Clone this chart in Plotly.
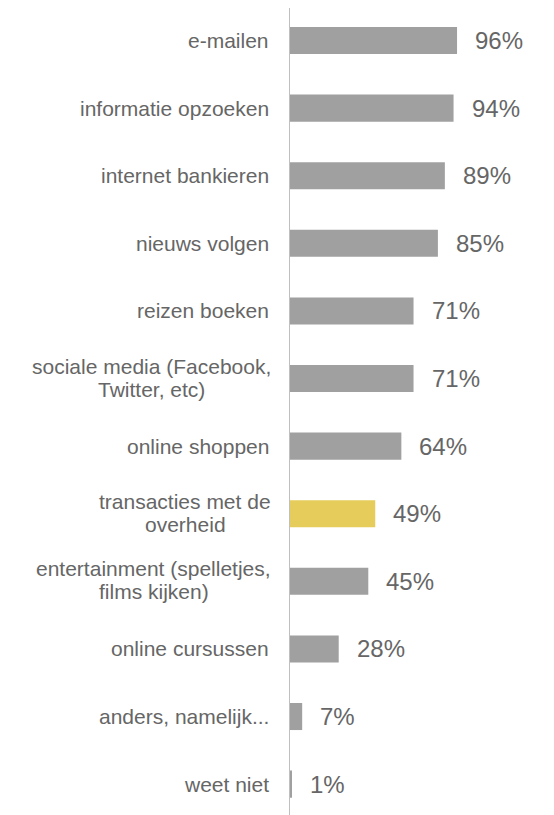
import plotly.graph_objects as go

categories = [
    "e-mailen",
    "informatie opzoeken",
    "internet bankieren",
    "nieuws volgen",
    "reizen boeken",
    "sociale media (Facebook,\nTwitter, etc)",
    "online shoppen",
    "transacties met de\noverheid",
    "entertainment (spelletjes,\nfilms kijken)",
    "online cursussen",
    "anders, namelijk...",
    "weet niet",
]
values = [96, 94, 89, 85, 71, 71, 64, 49, 45, 28, 7, 1]
highlight = "transacties met de\noverheid"

GRAY = "#a0a0a0"
YELLOW = "#e6cc5a"
TEXT = "#666666"
FONT = "Liberation Sans, Arial"
CAT_SIZE = 21
VAL_SIZE = 24
LABEL_GAP = 19
LINE_SPACING = 23

# Arial / Liberation Sans advance widths (per 1000 em) for centring wrapped labels
ARIAL_W = {
    " ": 278, "(": 333, ")": 333, ",": 278, ".": 278, "-": 333,
    "a": 556, "b": 556, "c": 500, "d": 556, "e": 556, "f": 278, "g": 556,
    "h": 556, "i": 222, "j": 222, "k": 500, "l": 222, "m": 833, "n": 556,
    "o": 556, "p": 556, "r": 333, "s": 500, "t": 278, "u": 556, "v": 500,
    "w": 722, "z": 500, "F": 611, "T": 611,
}


def text_width(s, size):
    return sum(ARIAL_W.get(ch, 556) for ch in s) / 1000 * size


idx = list(range(len(categories)))
colors = [YELLOW if c == highlight else GRAY for c in categories]

fig = go.Figure(go.Bar(
    x=values, y=idx, orientation="h",
    marker=dict(color=colors, line=dict(width=0)),
    width=0.4, hoverinfo="skip",
))

annotations = []
for i, (c, v) in enumerate(zip(categories, values)):
    lines = c.split("\n")
    block_w = max(text_width(l, CAT_SIZE) for l in lines)
    n = len(lines)
    for k, line in enumerate(lines):
        yshift = ((n - 1) / 2 - k) * LINE_SPACING
        if n == 1:
            annotations.append(dict(
                x=0, y=i, xref="x", yref="y", text=line, showarrow=False,
                xanchor="right", yanchor="middle", xshift=-LABEL_GAP,
                font=dict(family=FONT, size=CAT_SIZE, color=TEXT),
            ))
        else:
            annotations.append(dict(
                x=0, y=i, xref="x", yref="y", text=line, showarrow=False,
                xanchor="center", yanchor="middle",
                xshift=-LABEL_GAP - block_w / 2, yshift=yshift + 1,
                font=dict(family=FONT, size=CAT_SIZE, color=TEXT),
            ))
    annotations.append(dict(
        x=v, y=i, xref="x", yref="y", text=f"{v}%", showarrow=False,
        xanchor="left", yanchor="middle", xshift=16,
        font=dict(family=FONT, size=VAL_SIZE, color=TEXT),
    ))

fig.update_layout(
    width=554, height=815,
    margin=dict(l=282, r=0, t=0, b=0),
    paper_bgcolor="white", plot_bgcolor="white",
    showlegend=False,
    xaxis=dict(range=[0, 272 / 1.74], visible=False),
    yaxis=dict(range=[11.575, -0.481], showticklabels=False, showgrid=False,
               zeroline=False, showline=True, linecolor="#bfbfbf", linewidth=1,
               ticks=""),
    annotations=annotations,
)

fig.write_html("out.html")
